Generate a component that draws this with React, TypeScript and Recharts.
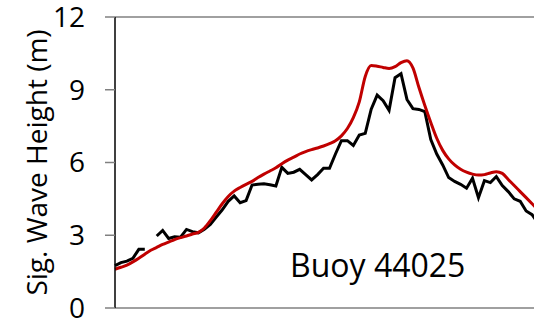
import { LineChart, Line, XAxis, YAxis, ReferenceLine } from 'recharts'

// hourly wave heights (m), hour 0..72
const hours = Array.from({ length: 73 }, (_, i) => i)

const observed: Array<number | null> = [
  1.75, 1.87, 1.93, 2.05, 2.42, 2.42, null, 2.97, 3.2, 2.87,
  2.94, 2.92, 3.24, 3.15, 3.1, 3.25, 3.45, 3.75, 4.05, 4.4,
  4.62, 4.34, 4.43, 5.07, 5.1, 5.12, 5.08, 5.03, 5.8, 5.55,
  5.6, 5.72, 5.5, 5.28, 5.5, 5.76, 5.76, 6.35, 6.9, 6.9,
  6.7, 7.13, 7.2, 8.2, 8.78, 8.55, 8.15, 9.5, 9.66, 8.6,
  8.22, 8.19, 8.1, 6.95, 6.35, 5.9, 5.38, 5.22, 5.1, 4.94,
  5.35, 4.55, 5.25, 5.17, 5.42, 5.05, 4.8, 4.5, 4.4, 4.0,
  3.85, 3.5, 3.3,
]

const modeled = [
  1.6, 1.68, 1.77, 1.9, 2.05, 2.22, 2.38, 2.5, 2.62, 2.72,
  2.82, 2.9, 2.97, 3.05, 3.12, 3.3, 3.6, 3.95, 4.3, 4.6,
  4.82, 4.97, 5.1, 5.22, 5.38, 5.52, 5.65, 5.78, 5.95, 6.1,
  6.22, 6.35, 6.45, 6.53, 6.6, 6.68, 6.78, 6.9, 7.1, 7.4,
  7.85, 8.5, 9.55, 10.0, 9.97, 9.92, 9.88, 9.95, 10.12, 10.2,
  9.9, 9.1, 8.35, 7.65, 7.0, 6.5, 6.15, 5.9, 5.72, 5.6,
  5.52, 5.48, 5.5, 5.57, 5.62, 5.55, 5.3, 5.05, 4.8, 4.55,
  4.3, 4.05, 3.85,
]

const yTicks = [0, 3, 6, 9, 12]
const xTicks = [0, 24, 48, 72]

const data = hours.map((h, i) => ({ h, obs: observed[i], model: modeled[i] }))

const font = '"Open Sans", sans-serif'

const YLabel = ({ viewBox }: any) => {
  const x = viewBox.x + 36
  const y = viewBox.y + viewBox.height / 2
  return (
    <text
      x={x}
      y={y}
      transform={`rotate(-90, ${x}, ${y})`}
      textAnchor="middle"
      dominantBaseline="central"
      fill="#000"
      fontSize={28}
      fontFamily={font}
    >
      Sig. Wave Height (m)
    </text>
  )
}

export default function App() {
  return (
    <div
      style={{
        position: 'absolute',
        left: 0,
        top: 0,
        width: 534,
        height: 322,
        overflow: 'hidden',
        background: '#fff',
      }}
    >
      <LineChart
        width={560}
        height={340}
        data={data}
        margin={{ top: 17, right: 16, bottom: 2, left: 0 }}
      >
        <XAxis
          dataKey="h"
          type="number"
          domain={[0, 72]}
          ticks={xTicks}
          tick={false}
          tickSize={10}
          height={30}
          axisLine={{ stroke: '#808080', strokeWidth: 1.5 }}
          tickLine={{ stroke: '#404040', strokeWidth: 1.5 }}
        />
        <YAxis
          type="number"
          domain={[0, 12]}
          ticks={yTicks}
          width={115}
          tickSize={10}
          tickMargin={20}
          axisLine={{ stroke: '#000', strokeWidth: 1.5 }}
          tickLine={{ stroke: '#808080', strokeWidth: 1.5 }}
          tick={{ fill: '#000', fontSize: 28, fontFamily: font }}
          label={<YLabel />}
        />
        <ReferenceLine y={12} stroke="#808080" strokeWidth={1.5} />
        <Line
          type="linear"
          dataKey="obs"
          stroke="#000"
          strokeWidth={3}
          dot={false}
          connectNulls={false}
          isAnimationActive={false}
        />
        <Line
          type="monotone"
          dataKey="model"
          stroke="#c00000"
          strokeWidth={3}
          dot={false}
          isAnimationActive={false}
        />
        <text x={290} y={277} fontSize={32} fontFamily={font} fill="#000">
          Buoy 44025
        </text>
      </LineChart>
    </div>
  )
}
